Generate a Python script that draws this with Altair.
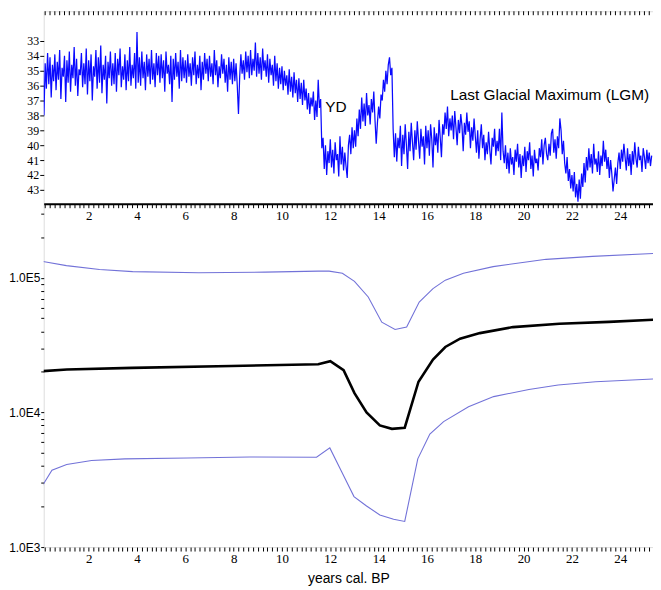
import altair as alt
import pandas as pd

# ---------------- top panel: isotope record (kyr BP), one value every 0.05 kyr
REC_STEP = 0.05
RECORD = [
    32.8, 36.5, 34.2, 38.0, 34.5, 36.2, 33.8, 35.9, 34.1, 36.8, 34.6, 35.7, 33.9, 36.3, 34.4, 35.6, 33.6, 36.9, 34.8, 35.4,
    34.0, 37.1, 34.3, 35.8, 33.7, 36.4, 34.6, 35.5, 33.4, 36.0, 34.2, 36.7, 34.9, 35.3, 33.8, 36.1, 34.5, 35.9, 33.5, 36.6,
    34.3, 35.7, 33.9, 37.0, 34.7, 35.4, 33.6, 36.2, 34.1, 35.8, 33.3, 36.5, 34.6, 35.6, 34.0, 37.2, 34.4, 35.5, 33.7, 36.0,
    34.5, 35.9, 33.8, 36.4, 34.2, 35.3, 33.5, 36.1, 34.7, 35.6, 33.9, 36.3, 34.3, 35.7, 33.4, 36.0, 34.6, 35.5, 33.8, 36.2,
    32.4, 35.8, 34.1, 36.0, 33.7, 35.5, 34.4, 36.3, 33.9, 35.4, 34.2, 35.9, 33.6, 35.6, 34.5, 36.1, 33.8, 35.3, 34.0, 35.8,
    33.9, 35.5, 34.3, 36.4, 33.7, 35.2, 34.6, 35.9, 34.0, 37.1, 34.2, 35.6, 33.8, 35.4, 34.4, 36.2, 33.6, 35.7, 34.1, 35.5,
    34.3, 35.8, 33.9, 35.4, 34.5, 36.0, 34.1, 35.3, 33.7, 35.9, 34.6, 35.5, 34.0, 36.3, 34.4, 35.6, 33.8, 35.2, 34.2, 35.7,
    34.0, 35.4, 34.5, 35.9, 33.6, 35.3, 34.3, 36.1, 34.7, 35.5, 33.9, 35.2, 34.2, 35.8, 34.6, 36.4, 34.1, 35.6, 34.4, 35.9,
    34.2, 35.7, 34.5, 36.0, 37.9, 35.4, 33.9, 35.2, 34.3, 35.6, 33.7, 35.1, 34.0, 35.5, 33.6, 35.3, 34.2, 35.0, 33.1, 35.4,
    33.8, 35.2, 34.1, 35.6, 33.5, 35.0, 34.3, 35.4, 33.9, 35.8, 34.2, 35.3, 34.6, 36.0, 34.0, 35.7, 34.5, 36.2, 34.8, 35.9,
    34.7, 36.3, 35.0, 36.0, 35.3, 36.6, 34.9, 36.4, 35.4, 36.8, 35.1, 36.5, 35.6, 37.1, 35.5, 36.9, 35.8, 37.3, 35.6, 37.0,
    36.2, 37.6, 36.5, 37.9, 36.8, 37.4, 36.4, 38.3, 37.0, 38.1, 35.6, 37.5, 36.9, 40.2, 39.5, 41.6, 40.0, 42.0, 40.4, 41.2,
    39.6, 41.5, 40.3, 41.9, 39.8, 41.0, 40.6, 42.1, 39.4, 41.3, 40.1, 41.7, 40.5, 41.4, 42.2, 40.0, 39.3, 40.6, 38.8, 40.2,
    39.0, 40.1, 38.2, 39.4, 37.6, 38.9, 36.8, 38.4, 37.2, 38.7, 36.5, 38.0, 37.3, 38.6, 36.9, 37.8, 36.4, 38.3, 39.9, 38.5,
    37.4, 38.2, 36.6, 37.0, 35.6, 36.4, 35.0, 35.9, 34.6, 34.1, 35.3, 34.8, 38.9, 40.8, 39.2, 41.1, 39.5, 40.2, 38.7, 41.4,
    39.3, 40.6, 38.6, 40.0, 41.6, 39.1, 40.4, 38.5, 39.8, 41.0, 39.0, 40.3, 38.4, 39.7, 40.9, 38.9, 40.1, 39.4, 41.3, 38.7,
    40.2, 39.0, 40.7, 38.6, 39.6, 41.5, 38.8, 40.0, 39.2, 40.5, 38.3, 39.5, 40.8, 38.6, 39.3, 37.8, 38.9, 37.4, 39.4, 38.2,
    39.0, 38.0, 39.6, 37.7, 38.8, 40.0, 38.3, 39.2, 37.9, 38.7, 40.4, 38.5, 39.3, 37.8, 39.1, 38.4, 40.2, 38.8, 39.7, 38.2,
    39.4, 40.5, 39.0, 40.9, 39.6, 38.6, 40.2, 39.3, 41.0, 39.8, 40.6, 39.1, 40.3, 41.3, 39.5, 40.1, 38.9, 40.7, 39.7, 40.4,
    38.9, 41.0, 37.8, 40.4, 41.2, 40.0, 41.6, 40.5, 41.9, 40.2, 41.3, 40.8, 42.0, 40.3, 41.1, 39.9, 41.5, 40.6, 42.2, 40.7,
    41.4, 40.1, 41.8, 40.4, 41.0, 39.8, 41.6, 40.7, 42.1, 40.3, 41.2, 40.9, 41.7, 40.2, 40.8, 39.6, 41.3, 40.0, 39.5, 40.6,
    41.0, 39.9, 40.7, 39.2, 38.9, 40.5, 39.6, 40.9, 39.4, 40.2, 38.2, 39.0, 40.6, 39.7, 41.2, 41.9, 40.8, 42.4, 41.6, 42.9,
    42.0, 43.1, 41.8, 43.5, 42.6, 43.8, 42.3, 43.6, 41.9, 42.8, 41.2, 42.5, 40.8, 41.7, 40.2, 41.5, 40.6, 41.9, 39.9, 41.3,
    40.9, 41.8, 40.4, 42.0, 40.7, 41.4, 39.7, 41.1, 40.3, 41.6, 40.8, 42.2, 41.0, 41.9, 43.1, 42.3, 41.5, 42.6, 41.2, 40.5,
    41.6, 40.3, 41.1, 39.9, 40.8, 41.7, 40.2, 41.4, 40.6, 42.0, 40.4, 41.3, 39.8, 40.9, 41.5, 40.1, 41.0, 40.7, 41.8, 40.2,
    40.8, 41.6, 40.3, 41.2, 40.5, 41.4, 40.7,
]

# ---------------- bottom panel: effective population size (median + bounds)
MED_AGE = [0.0, 1.1, 3.8, 7.9, 11.5, 12.0, 12.55, 13.0, 13.5, 14.05, 14.55, 15.08, 15.65, 16.25, 16.76, 17.37,
           18.19, 19.56, 21.48, 23.53, 25.4]
MED_VAL = [20200, 20800, 21400, 22100, 22800, 24000, 20600, 13900, 10000, 8000, 7550, 7700, 16900, 24700, 30600,
           35300, 38800, 43000, 45500, 47000, 48800]

UP_AGE = [0.0, 1.08, 2.45, 3.82, 6.56, 9.3, 11.5, 11.95, 12.5, 13.0, 13.57, 14.13, 14.68, 15.16, 15.68, 16.25,
          16.76, 17.51, 18.74, 20.11, 20.93, 22.85, 25.4]
UP_VAL = [133000, 123000, 115000, 111000, 109000, 110000, 112000, 112000, 108000, 94000, 72000, 46800, 41300,
          43000, 66000, 83000, 96000, 108000, 121000, 131000, 137000, 144000, 151500]

LO_AGE = [0.0, 0.48, 1.09, 2.12, 3.5, 6.09, 8.67, 11.43, 11.98, 12.46, 12.98, 13.5, 14.05, 14.62, 15.08, 15.62,
          16.12, 16.69, 17.72, 18.76, 20.22, 21.43, 22.98, 25.4]
LO_VAL = [2700, 3720, 4100, 4390, 4520, 4590, 4670, 4640, 5450, 3660, 2370, 2020, 1730, 1610, 1550, 4520, 6900,
          8550, 11000, 13100, 14800, 16000, 16900, 17700]

# ---------------- annotations / ticks
ANN_TEXT = ["YD", "Last Glacial Maximum (LGM)"]
ANN_AGE = [12.23, 21.08]
ANN_VAL = [37.45, 36.63]

X_LABELS = [2, 4, 6, 8, 10, 12, 14, 16, 18, 20, 22, 24]
TOP_Y_TICKS = [33, 34, 35, 36, 37, 38, 39, 40, 41, 42, 43]
LOG_TICKS = [1000, 2000, 3000, 4000, 5000, 6000, 7000, 8000, 9000,
             10000, 20000, 30000, 40000, 50000, 60000, 70000, 80000, 90000,
             100000, 200000, 300000]

x_minor = [round(0.2 * i, 1) for i in range(1, 127)]

rec_df = pd.DataFrame({"age": [round(i * REC_STEP, 2) for i in range(len(RECORD))], "val": RECORD})
ann_df = pd.DataFrame({"age": ANN_AGE, "val": ANN_VAL, "label": ANN_TEXT})
tick_df = pd.DataFrame({"age": x_minor})
med_df = pd.DataFrame({"age": MED_AGE, "ne": MED_VAL})
up_df = pd.DataFrame({"age": UP_AGE, "ne": UP_VAL})
lo_df = pd.DataFrame({"age": LO_AGE, "ne": LO_VAL})

# one plot area, split into an upper band (isotopes) and a lower band (Ne)
W = 614
H_TOP = 194
H_BOT = 346
H = H_TOP + H_BOT
x_scale = alt.Scale(domain=[0.14, 25.355], nice=False, zero=False)
top_scale = alt.Scale(domain=[31.0, 43.93], range=[0, H_TOP], nice=False, zero=False)
bot_scale = alt.Scale(type="log", domain=[1000, 354500], range=[H, H_TOP], nice=False)

label_expr = ("(indexof([" + ",".join(str(v) for v in X_LABELS) + "], datum.value) >= 0) "
              "? format(datum.value, 'd') : ''")

common_x = dict(values=x_minor, labelExpr=label_expr, grid=False, tickSize=4, tickColor="black", tickWidth=1,
                labelFont="Liberation Serif", labelFontSize=13, labelColor="black", labelPadding=2,
                labelOverlap=False, labelFlush=False)

# axis under the upper band (its domain line is the separator between the bands)
x_mid_axis = alt.Axis(orient="bottom", offset=-H_BOT, title=None, domain=True, domainColor="black",
                      domainWidth=2, **common_x)
x_bot_axis = alt.Axis(orient="bottom", title="years cal. BP", domain=False,
                      titleFont="Liberation Sans", titleFontSize=14, titleFontWeight="normal",
                      titleColor="black", titlePadding=6, **common_x)

y_top_axis = alt.Axis(orient="left", values=TOP_Y_TICKS, title=None, domain=False, grid=False, tickSize=4,
                      tickColor="black", labelFont="Liberation Serif", labelFontSize=12,
                      labelColor="black", labelPadding=1, labelOverlap=False, format="d")
log_expr = ("datum.value == 1000 ? '1.0E3' : datum.value == 10000 ? '1.0E4' : "
            "datum.value == 100000 ? '1.0E5' : ''")
y_bot_axis = alt.Axis(orient="left", values=LOG_TICKS, labelExpr=log_expr, title=None, domain=False,
                      grid=False, tickSize=3, tickColor="black", labelFont="Liberation Sans",
                      labelFontSize=12, labelColor="black", labelPadding=1, labelOverlap=False)

rec_line = alt.Chart(rec_df).mark_line(color="#0a0aff", strokeWidth=1.25, clip=True).encode(
    x=alt.X("age:Q", scale=x_scale, axis=x_mid_axis),
    y=alt.Y("val:Q", scale=top_scale, axis=y_top_axis),
)
ann = alt.Chart(ann_df).mark_text(font="Liberation Sans", fontSize=15.5, color="black", align="center",
                                  baseline="middle").encode(
    x=alt.X("age:Q", scale=x_scale, axis=None),
    y=alt.Y("val:Q", scale=top_scale, axis=None),
    text="label:N",
)
top_ticks = alt.Chart(tick_df).mark_rule(color="black", strokeWidth=1).encode(
    x=alt.X("age:Q", scale=x_scale, axis=None),
    y=alt.value(0),
    y2=alt.value(4),
)
up_line = alt.Chart(up_df).mark_line(color="#7272d8", strokeWidth=1.1, clip=True).encode(
    x=alt.X("age:Q", scale=x_scale, axis=x_bot_axis),
    y=alt.Y("ne:Q", scale=bot_scale, axis=y_bot_axis),
)
lo_line = alt.Chart(lo_df).mark_line(color="#7272d8", strokeWidth=1.1, clip=True).encode(
    x=alt.X("age:Q", scale=x_scale, axis=None),
    y=alt.Y("ne:Q", scale=bot_scale, axis=None),
)
med_line = alt.Chart(med_df).mark_line(color="black", strokeWidth=2.6, clip=True).encode(
    x=alt.X("age:Q", scale=x_scale, axis=None),
    y=alt.Y("ne:Q", scale=bot_scale, axis=None),
)

chart = alt.layer(rec_line, ann, top_ticks, up_line, lo_line, med_line).resolve_scale(
    y="independent"
).resolve_axis(
    x="independent", y="independent"
).properties(
    width=W, height=H, padding={"left": 0, "top": 0, "right": 0, "bottom": 0}
).configure_view(
    stroke="black", strokeWidth=1.8
).configure(background="white")

chart.save("out.html", embed_options={"renderer": "svg", "actions": False})
